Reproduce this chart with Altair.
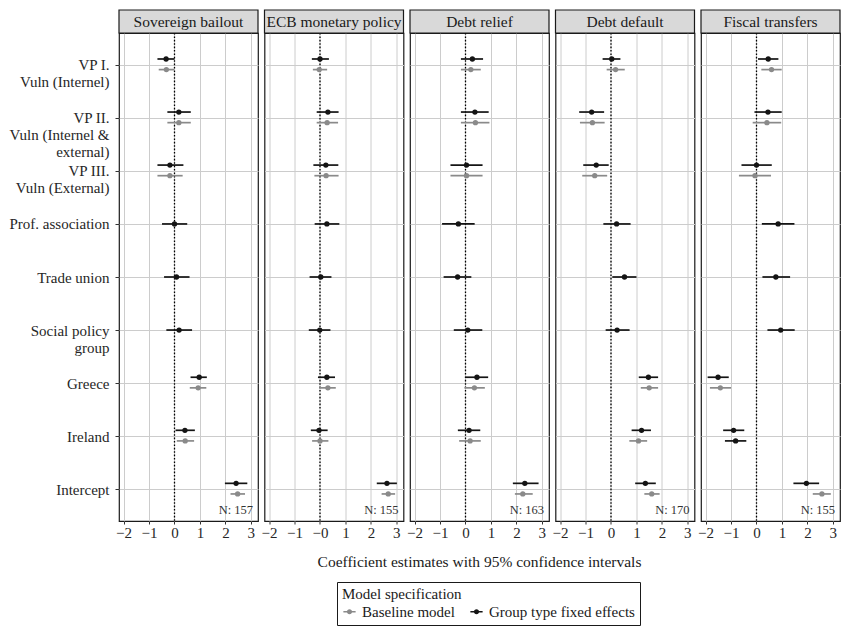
import json
import altair as alt
import pandas as pd

# ---------------- data ----------------
row_labels = [
    "VP I.\nVuln (Internel)",
    "VP II.\nVuln (Internel &\nexternal)",
    "VP III.\nVuln (External)",
    "Prof. association",
    "Trade union",
    "Social policy\ngroup",
    "Greece",
    "Ireland",
    "Intercept",
]
panels = ["Sovereign bailout", "ECB monetary policy", "Debt relief", "Debt default", "Fiscal transfers"]
n_obs = [157, 155, 163, 170, 155]
x_ticks = [-2, -1, 0, 1, 2, 3]
x_title = "Coefficient estimates with 95% confidence intervals"
legend_title = "Model specification"

# Group type fixed effects model
fe_est = {
    "Sovereign bailout":   [-0.33, 0.17, -0.18, 0.00, 0.08, 0.18, 0.97, 0.41, 2.42],
    "ECB monetary policy": [0.00, 0.31, 0.23, 0.27, 0.03, -0.01, 0.27, -0.04, 2.63],
    "Debt relief":         [0.27, 0.37, 0.04, -0.28, -0.31, 0.09, 0.45, 0.14, 2.33],
    "Debt default":        [0.03, -0.76, -0.58, 0.22, 0.53, 0.24, 1.47, 1.20, 1.35],
    "Fiscal transfers":    [0.46, 0.45, 0.00, 0.85, 0.76, 0.95, -1.51, -0.90, 1.96],
}
fe_lo = {
    "Sovereign bailout":   [-0.67, -0.28, -0.67, -0.49, -0.41, -0.32, 0.63, 0.04, 1.98],
    "ECB monetary policy": [-0.32, -0.13, -0.26, -0.21, -0.41, -0.44, -0.08, -0.36, 2.23],
    "Debt relief":         [-0.18, -0.18, -0.59, -0.92, -0.86, -0.46, 0.00, -0.30, 1.86],
    "Debt default":        [-0.33, -1.25, -1.09, -0.30, 0.05, -0.21, 1.09, 0.81, 0.95],
    "Fiscal transfers":    [0.06, -0.08, -0.59, 0.21, 0.23, 0.43, -1.92, -1.31, 1.45],
}
fe_hi = {
    "Sovereign bailout":   [0.00, 0.64, 0.35, 0.50, 0.59, 0.69, 1.27, 0.80, 2.86],
    "ECB monetary policy": [0.35, 0.73, 0.72, 0.76, 0.45, 0.41, 0.59, 0.30, 3.02],
    "Debt relief":         [0.69, 0.91, 0.67, 0.36, 0.23, 0.66, 0.89, 0.58, 2.87],
    "Debt default":        [0.37, -0.27, -0.09, 0.77, 1.00, 0.73, 1.85, 1.57, 1.76],
    "Fiscal transfers":    [0.86, 0.99, 0.60, 1.49, 1.32, 1.50, -1.09, -0.48, 2.46],
}
# Baseline model (no group-type rows)
bl_est = {
    "Sovereign bailout":   [-0.32, 0.17, -0.18, None, None, None, 0.93, 0.42, 2.48],
    "ECB monetary policy": [-0.03, 0.28, 0.24, None, None, None, 0.31, 0.00, 2.68],
    "Debt relief":         [0.21, 0.39, 0.04, None, None, None, 0.35, 0.18, 2.25],
    "Debt default":        [0.18, -0.73, -0.64, None, None, None, 1.50, 1.08, 1.60],
    "Fiscal transfers":    [0.59, 0.41, -0.06, None, None, None, -1.42, -0.82, 2.57],
}
bl_lo = {
    "Sovereign bailout":   [-0.62, -0.28, -0.67, None, None, None, 0.60, 0.09, 2.20],
    "ECB monetary policy": [-0.28, -0.13, -0.22, None, None, None, -0.03, -0.31, 2.42],
    "Debt relief":         [-0.18, -0.18, -0.59, None, None, None, -0.04, -0.25, 1.94],
    "Debt default":        [-0.17, -1.22, -1.13, None, None, None, 1.17, 0.72, 1.31],
    "Fiscal transfers":    [0.19, -0.15, -0.69, None, None, None, -1.83, -1.24, 2.21],
}
bl_hi = {
    "Sovereign bailout":   [-0.01, 0.64, 0.32, None, None, None, 1.25, 0.77, 2.77],
    "ECB monetary policy": [0.28, 0.71, 0.73, None, None, None, 0.62, 0.33, 2.95],
    "Debt relief":         [0.60, 0.94, 0.67, None, None, None, 0.76, 0.60, 2.64],
    "Debt default":        [0.54, -0.25, -0.15, None, None, None, 1.85, 1.42, 1.91],
    "Fiscal transfers":    [0.99, 0.97, 0.57, None, None, None, -1.00, -0.40, 2.92],
}
# in the reference this baseline marker is printed in black
black_baseline = [("Fiscal transfers", "Ireland")]

# ---------------- build table ----------------
BL, FE = "Baseline model", "Group type fixed effects"
FONT = "Liberation Serif, DejaVu Serif, serif"
W, H, HEAD = 139, 488, 23
UP, DOWN = 0.11, 0.09  # dodge of paired estimates (row units)

recs = []
for p in panels:
    for i, lab in enumerate(row_labels):
        paired = bl_est[p][i] is not None
        recs.append({"panel": p, "ink": FE, "est": fe_est[p][i], "lo": fe_lo[p][i],
                     "hi": fe_hi[p][i], "ypos": i - (UP if paired else 0.0)})
        if paired:
            ink = FE if (p, lab) in black_baseline else BL
            recs.append({"panel": p, "ink": ink, "est": bl_est[p][i], "lo": bl_lo[p][i],
                         "hi": bl_hi[p][i], "ypos": i + DOWN})
df = pd.DataFrame(recs)

xscale = alt.Scale(domain=[-2.18, 3.28], nice=False, zero=False)
yscale = alt.Scale(domain=[-0.6, len(row_labels) - 0.4], reverse=True, nice=False, zero=False)
cscale = alt.Scale(domain=[BL, FE], range=["#8a8a8a", "#141414"])
label_expr = "split(" + json.dumps([l.replace("\n", "|") for l in row_labels]) + "[datum.value], '|')"
sym = "M-1,0L1,0M-0.3,0A0.3,0.3,0,1,1,0.3,0A0.3,0.3,0,1,1,-0.3,0Z"
leg = alt.Legend(title=legend_title, orient="none", legendX=218, legendY=H + 61,
                 direction="horizontal", symbolType=sym)


def make_panel(k, p):
    xkw = dict(values=x_ticks, title=None, format="d", grid=True)
    if p == "ECB monetary policy":
        xkw["labelExpr"] = "datum.value === 0 ? '\u22120' : datum.label"
    xaxis = alt.Axis(**xkw)
    if k == 0:
        yaxis = alt.Axis(values=list(range(len(row_labels))), labelExpr=label_expr, title=None,
                         grid=True, labelLineHeight=17, tickSize=4, labelPadding=6)
    else:
        yaxis = alt.Axis(values=list(range(len(row_labels))), title=None, grid=True,
                         labels=False, ticks=False, domain=False)

    def X(f):
        return alt.X(f"{f}:Q", scale=xscale, axis=xaxis)

    Y = alt.Y("ypos:Q", scale=yscale, axis=yaxis)
    sub = alt.Chart(df).transform_filter(alt.datum.panel == p)

    zero = alt.Chart(pd.DataFrame({"zero": [0]})).mark_rule(
        color="#000000", strokeDash=[1.6, 1.8], strokeWidth=1.3).encode(x=X("zero"))
    bars = sub.mark_rule(strokeWidth=1.7).encode(
        x=X("lo"), x2="hi:Q", y=Y, color=alt.Color("ink:N", scale=cscale, legend=leg))
    dots = sub.mark_circle(size=28, opacity=1).encode(
        x=X("est"), y=Y, color=alt.Color("ink:N", scale=cscale, legend=leg))

    hdr = alt.Chart(pd.DataFrame({"panel": [p], "nlab": [f"N: {n_obs[k]}"]}))
    box = hdr.mark_rect(fill="#d9d9d9", stroke="#1a1a1a", strokeWidth=1.2).encode(
        x=alt.value(0), x2=alt.value(W), y=alt.value(-HEAD), y2=alt.value(0))
    htxt = hdr.mark_text(font=FONT, fontSize=15.5, color="#1a1a1a", baseline="middle").encode(
        x=alt.value(W / 2), y=alt.value(-HEAD / 2 + 0.5), text="panel:N")
    ntxt = hdr.mark_text(font=FONT, fontSize=12.5, color="#333333", align="right", baseline="middle").encode(
        x=alt.value(W - 5), y=alt.value(H - 11), text="nlab:N")
    layers = [zero, bars, dots, box, htxt, ntxt]
    if k == 2:
        layers.append(hdr.mark_text(font=FONT, fontSize=15.5, color="#1a1a1a", baseline="middle").encode(
            x=alt.value(W / 2), y=alt.value(H + 41), text=alt.value(x_title)))
    return alt.layer(*layers).properties(width=W, height=H)


chart = alt.hconcat(*[make_panel(k, p) for k, p in enumerate(panels)], spacing=6.5,
                    bounds="flush").properties(
    padding={"left": 0, "top": 0, "right": 3, "bottom": 3}
).configure_view(
    stroke="#1a1a1a", strokeWidth=1.2
).configure_axis(
    gridColor="#cccccc", gridWidth=1, domain=False, tickColor="#333333",
    labelFont=FONT, labelFontSize=15, labelColor="#262626", tickSize=4
).configure_axisX(
    labelPadding=1, tickSize=3
).configure_legend(
    strokeColor="#1a1a1a", strokeWidth=1, padding=5, fillColor="white",
    titleFont=FONT, titleFontSize=15, titleFontWeight="normal", titleColor="#1a1a1a",
    titlePadding=2, labelFont=FONT, labelFontSize=15, labelColor="#1a1a1a",
    symbolSize=150, symbolStrokeWidth=1.5, columnPadding=12, labelOffset=5
)

chart.save("out.html", embed_options={"renderer": "svg", "actions": False})
